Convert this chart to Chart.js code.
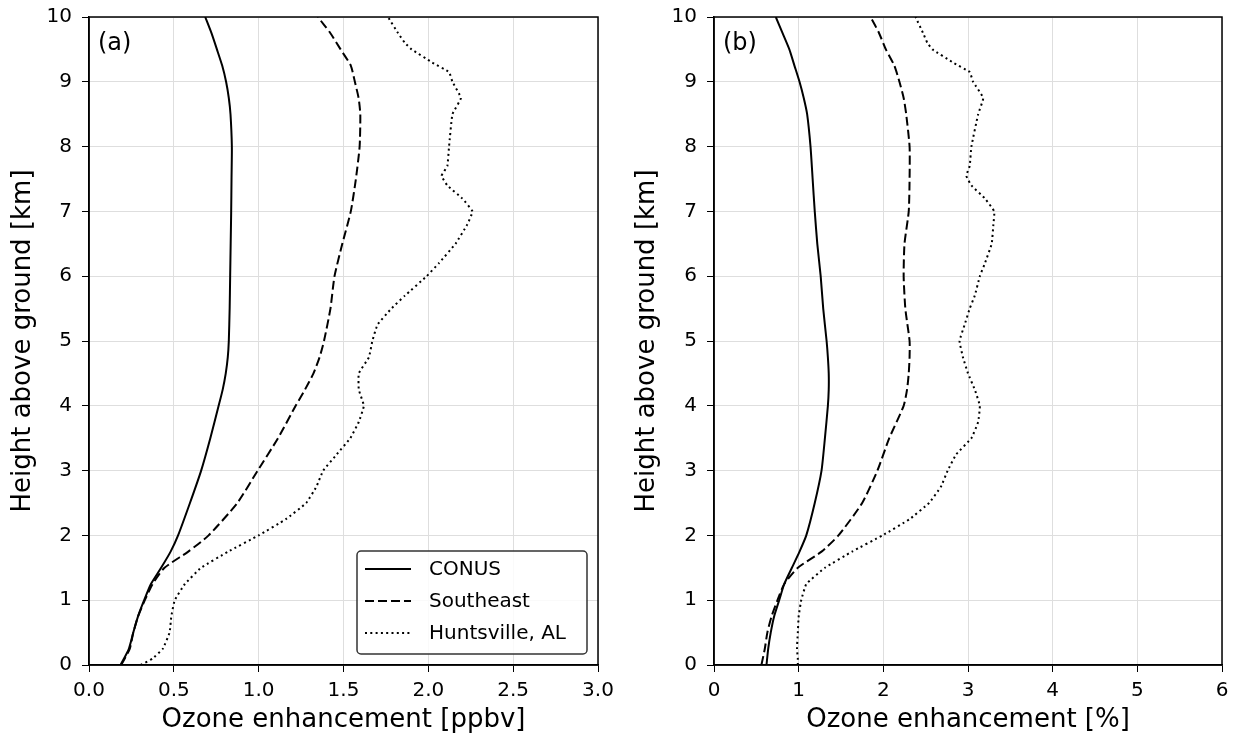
<!DOCTYPE html>
<html>
<head>
<meta charset="utf-8">
<script src="https://cdn.jsdelivr.net/npm/chart.js@4.4.1/dist/chart.umd.min.js"></script>
<style>
  html, body { margin: 0; padding: 0; background: #ffffff; }
  #wrap { position: relative; width: 1236px; height: 742px; }
  .pane { position: absolute; top: 0; height: 742px; }
</style>
</head>
<body>
<div id="wrap">
  <div class="pane" style="left:0; width:618px"><canvas id="cA"></canvas></div>
  <div class="pane" style="left:624px; width:612px"><canvas id="cB"></canvas></div>
</div>
<script>
// ---- Data ----
const heights = [0,0.25,0.5,0.75,1,1.25,1.5,1.75,2,2.5,3,3.5,4,4.25,4.5,4.75,5,5.5,6,6.5,7,7.5,8,8.5,8.75,9,9.25,9.5,9.75,10];
const conusPpbv = [0.186,0.235,0.261,0.289,0.325,0.365,0.425,0.481,0.525,0.595,0.661,0.715,0.764,0.788,0.806,0.818,0.824,0.829,0.832,0.835,0.838,0.840,0.842,0.834,0.824,0.808,0.785,0.754,0.722,0.685];
const southeastPpbv = [0.19,0.24,0.261,0.289,0.329,0.375,0.445,0.585,0.705,0.874,0.994,1.114,1.218,1.273,1.323,1.359,1.385,1.423,1.447,1.493,1.543,1.573,1.595,1.599,1.589,1.567,1.543,1.483,1.423,1.349];
const conusPct = [0.62,0.64,0.67,0.71,0.77,0.83,0.92,1.01,1.09,1.19,1.27,1.31,1.345,1.355,1.355,1.345,1.33,1.29,1.26,1.22,1.19,1.165,1.14,1.10,1.06,1.01,0.95,0.89,0.81,0.73];
const southeastPct = [0.56,0.60,0.63,0.68,0.75,0.83,0.99,1.27,1.47,1.75,1.93,2.07,2.24,2.28,2.30,2.31,2.31,2.26,2.24,2.25,2.30,2.31,2.31,2.27,2.24,2.19,2.13,2.03,1.95,1.85];

const hsvHeights = [0,0.1,0.25,0.5,0.75,1,1.25,1.5,1.75,2,2.25,2.5,2.75,3,3.25,3.5,3.75,4,4.25,4.5,4.75,5,5.25,5.5,5.7,6,6.2,6.5,6.8,7,7.2,7.4,7.55,7.7,8,8.5,8.75,9,9.15,9.3,9.5,9.6,9.75,10];
const huntsvillePpbv = [0.305,0.375,0.435,0.475,0.485,0.505,0.565,0.66,0.82,1.00,1.16,1.28,1.34,1.38,1.46,1.54,1.59,1.62,1.59,1.59,1.65,1.67,1.70,1.782,1.862,1.99,2.062,2.16,2.23,2.26,2.20,2.112,2.078,2.112,2.122,2.142,2.192,2.142,2.122,2.022,1.902,1.862,1.822,1.762];
const huntsvillePct = [0.99,0.99,0.98,0.99,1.00,1.03,1.09,1.31,1.63,1.99,2.31,2.54,2.68,2.76,2.86,3.04,3.12,3.14,3.08,3.00,2.94,2.90,2.96,3.02,3.08,3.14,3.20,3.28,3.30,3.31,3.20,3.04,2.98,3.02,3.04,3.12,3.18,3.06,3.02,2.82,2.58,2.52,2.47,2.38];

const seriesNames = ["CONUS", "Southeast", "Huntsville, AL"];
const yTicks = [0,1,2,3,4,5,6,7,8,9,10];
const xTicksA = [0.0,0.5,1.0,1.5,2.0,2.5,3.0];
const xTicksB = [0,1,2,3,4,5,6];

const FONT = "'DejaVu Sans', 'Liberation Sans', sans-serif";

function pts(xs, ys) { return xs.map((v, i) => ({ x: v, y: ys[i] })); }

const styles = [
  { borderDash: [], borderWidth: 2, tension: 0.2 },
  { borderDash: [9, 4], borderWidth: 2, tension: 0.2 },
  { borderDash: [2, 3.3], borderWidth: 2, tension: 0.1 }
];

function makeDatasets(a, b, c) {
  const data = [pts(a, heights), pts(b, heights), pts(c, hsvHeights)];
  return data.map((d, i) => ({
    label: seriesNames[i],
    data: d,
    showLine: true,
    borderColor: '#000000',
    backgroundColor: '#000000',
    borderWidth: styles[i].borderWidth,
    borderDash: styles[i].borderDash,
    tension: styles[i].tension,
    pointRadius: 0,
    fill: false
  }));
}

const framePlugin = {
  id: 'frame',
  afterDraw(chart, args, opts) {
    const ctx = chart.ctx, a = chart.chartArea;
    ctx.save();
    ctx.strokeStyle = '#000';
    ctx.lineWidth = 1.5;
    ctx.strokeRect(a.left, a.top, a.right - a.left, a.bottom - a.top);
    // panel label
    ctx.fillStyle = '#000';
    ctx.font = "24px " + FONT;
    ctx.textBaseline = 'alphabetic';
    ctx.textAlign = 'left';
    ctx.fillText(opts.label, a.left + 9, a.top + 33);
    // legend
    if (opts.legend) {
      const w = 230, h = 103;
      const x0 = a.right - 11 - w, y0 = a.bottom - 11 - h;
      ctx.beginPath();
      ctx.roundRect(x0, y0, w, h, 4);
      ctx.fillStyle = 'rgba(255,255,255,0.85)';
      ctx.fill();
      ctx.strokeStyle = '#333';
      ctx.lineWidth = 1.5;
      ctx.stroke();
      chart.data.datasets.forEach((ds, i) => {
        const yy = y0 + 18 + i * 32;
        ctx.beginPath();
        ctx.setLineDash(ds.borderDash || []);
        ctx.strokeStyle = '#000';
        ctx.lineWidth = ds.borderWidth;
        ctx.moveTo(x0 + 8, yy);
        ctx.lineTo(x0 + 54, yy);
        ctx.stroke();
        ctx.setLineDash([]);
        ctx.fillStyle = '#000';
        ctx.font = "20px " + FONT;
        ctx.textBaseline = 'middle';
        ctx.fillText(ds.label, x0 + 72, yy + 1);
      });
    }
    ctx.restore();
  }
};

function makeChart(id, datasets, xmax, xTicks, xTitle, decimals, yWidth, rightPad, label, legend) {
  return new Chart(document.getElementById(id), {
    type: 'scatter',
    data: { datasets },
    options: {
      responsive: true,
      maintainAspectRatio: false,
      animation: false,
      events: [],
      layout: { padding: { top: 17, right: rightPad, left: 0, bottom: 0 } },
      plugins: {
        legend: { display: false },
        tooltip: { enabled: false },
        frame: { label, legend }
      },
      scales: {
        x: {
          type: 'linear', min: 0, max: xmax,
          afterBuildTicks: (s) => { s.ticks = xTicks.map(v => ({ value: v })); },
          afterFit: (s) => { s.height = 77; s.paddingLeft = 0; s.paddingRight = 0; },
          grid: { color: '#dedede', lineWidth: 1, tickLength: 7, tickColor: '#000', drawTicks: true },
          border: { display: true, color: '#000', width: 1.5 },
          ticks: {
            color: '#000', padding: 7,
            font: { family: FONT, size: 20 },
            callback: (v) => Number(v).toFixed(decimals),
            maxRotation: 0, autoSkip: false
          },
          title: { display: true, text: xTitle, color: '#000', font: { family: FONT, size: 26 }, padding: { top: 2, bottom: 6 } }
        },
        y: {
          type: 'linear', min: 0, max: 10,
          afterBuildTicks: (s) => { s.ticks = yTicks.map(v => ({ value: v })); },
          afterFit: (s) => { s.width = yWidth; s.paddingTop = 0; s.paddingBottom = 0; },
          grid: { color: '#dedede', lineWidth: 1, tickLength: 7, tickColor: '#000', drawTicks: true },
          border: { display: true, color: '#000', width: 1.5 },
          ticks: { color: '#000', padding: 10, font: { family: FONT, size: 20 }, autoSkip: false },
          title: { display: true, text: 'Height above ground [km]', color: '#000', font: { family: FONT, size: 26 }, padding: { top: 8, bottom: 4 } }
        }
      }
    },
    plugins: [framePlugin]
  });
}

makeChart('cA', makeDatasets(conusPpbv, southeastPpbv, huntsvillePpbv), 3, xTicksA, 'Ozone enhancement [ppbv]', 1, 89, 20, '(a)', true);
makeChart('cB', makeDatasets(conusPct, southeastPct, huntsvillePct), 6, xTicksB, 'Ozone enhancement [%]', 0, 90, 14, '(b)', false);
</script>
</body>
</html>
